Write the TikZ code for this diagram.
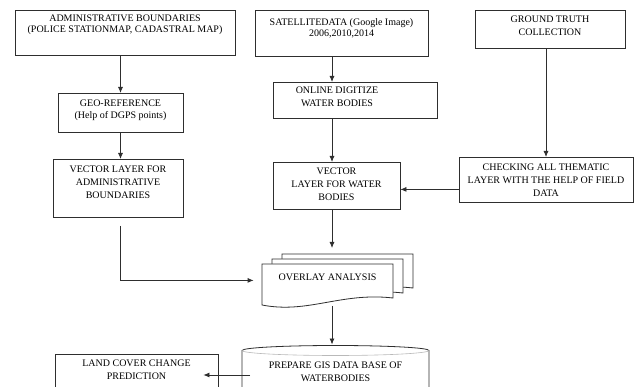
\documentclass[tikz,border=0pt]{standalone}
\usepackage{fontspec}
\setmainfont{Liberation Serif}
\usetikzlibrary{arrows.meta}
\definecolor{inkline}{HTML}{2E2E2E}
\newcommand{\flowFont}[1]{\fontsize{10}{#1}\selectfont}

\begin{document}
\begin{tikzpicture}[x=1pt,y=-1pt,
  flowbox/.style={draw=inkline, line width=0.8pt, align=center, inner xsep=2pt, inner ysep=0pt, anchor=north, font=\flowFont{#1}},
  flowbox/.default=13,
  flowline/.style={draw=inkline, line width=0.8pt},
  flowarrow/.style={flowline, -{Latex[length=6pt,width=5pt]}}]
\useasboundingbox (0,0) rectangle (634,387);
\clip (0,0) rectangle (634,387);
\fill[white] (0,0) rectangle (634,387);
% top row
\node[flowbox=10.5, minimum width=220pt, text height=22.1pt, text depth=22.9pt] (admin) at (125,10) {ADMINISTRATIVE BOUNDARIES\\(POLICE STATIONMAP, CADASTRAL MAP)};
\node[flowbox=11, minimum width=173pt, text height=26.3pt, text depth=19.7pt] (satellite) at (341.5,10) {SATELLITEDATA (Google Image)\\2006,2010,2014};
\node[flowbox, minimum width=150pt, text height=25.6pt, text depth=12.4pt] (ground) at (550,10) {GROUND TRUTH\\COLLECTION};
% second row
\node[flowbox=12, minimum width=125pt, text height=25.3pt, text depth=13.7pt] (georef) at (120.5,93) {GEO-REFERENCE\\(Help of DGPS points)};
\node[flowbox, minimum width=164pt, text height=24.3pt, text depth=11.7pt] (online) at (355,82) {ONLINE DIGITIZE\rule{36pt}{0pt}\\WATER BODIES\rule{36pt}{0pt}};
% vector layers
\node[flowbox, minimum width=130pt, text height=39.3pt, text depth=18.7pt] (vadmin) at (118,159) {VECTOR LAYER FOR\\ADMINISTRATIVE\\BOUNDARIES};
\node[flowbox, minimum width=127pt, text height=38.3pt, text depth=8.7pt] (vwater) at (336.5,162) {VECTOR\\LAYER FOR WATER\\BODIES};
\node[flowbox, minimum width=174pt, text height=39.3pt, text depth=5.7pt] (checking) at (546,157) {CHECKING ALL THEMATIC\\LAYER WITH THE HELP OF FIELD\\DATA};
% overlay (stack of documents)
\foreach \dx/\dy in {20/-10,10/-5,0/0}
  \draw[flowline, fill=white, shift={(\dx,\dy)}] (262,305) -- (262,264) -- (393,264) -- (393,298)
    .. controls (341,292) and (308,314) .. (262,305) -- cycle;
\node[flowbox, draw=none, minimum width=131pt, text height=16.3pt, text depth=24.7pt] (overlay) at (327.5,264) {OVERLAY ANALYSIS};
% data base (cylinder)
\draw[flowline] (242,400) -- (242,350.5) arc[start angle=180, end angle=360, x radius=93.5, y radius=5] -- (429,400);
\draw[gray!55, line width=0.6pt] (242,350.5) arc[start angle=180, end angle=0, x radius=93.5, y radius=5];
\node[flowbox=12.5, draw=none, minimum width=187pt, text height=30.8pt, text depth=20pt] (gisdb) at (335.5,350) {PREPARE GIS DATA BASE OF\\WATERBODIES};
\node[flowbox=12.5, minimum width=163pt, text height=24.8pt, text depth=27.5pt] (landcover) at (136.5,354) {LAND COVER CHANGE\\PREDICTION};
% connectors
\coordinate (spine) at (332,0);
\coordinate (vadtail) at ([yshift=-8pt]vadmin.south);
\coordinate (ovfeed) at ([xshift=-8pt,yshift=4.5pt]overlay.west);
\coordinate (ovtop) at ([yshift=16pt]overlay.north);
\coordinate (dbtop) at (335.5,344.5);
\coordinate (chkfeed) at ([yshift=-9.5pt]checking.west);
\coordinate (dbleft) at (242,375);
\coordinate (dbout) at ([xshift=8pt]dbleft);
\coordinate (lcin) at ([xshift=-15pt]landcover.east);
\draw[flowarrow] (admin.south -| georef.north) -- (georef.north);
\draw[flowarrow] (georef.south) -- (georef.south |- vadmin.north);
\draw[flowarrow] (vadtail -| georef.south) |- (ovfeed);
\draw[flowarrow] (satellite.south -| spine) -- (online.north -| spine);
\draw[flowarrow] (online.south -| spine) -- (vwater.north -| spine);
\draw[flowarrow] (vwater.south -| spine) -- (ovtop -| spine);
\draw[flowarrow] (overlay.south -| spine) -- (dbtop -| spine);
\draw[flowarrow] (ground.south -| checking.north) -- (checking.north);
\draw[flowarrow] (chkfeed) -- (chkfeed -| vwater.east);
\draw[flowarrow] (dbout) -- (dbout -| lcin);
\end{tikzpicture}
\end{document}
